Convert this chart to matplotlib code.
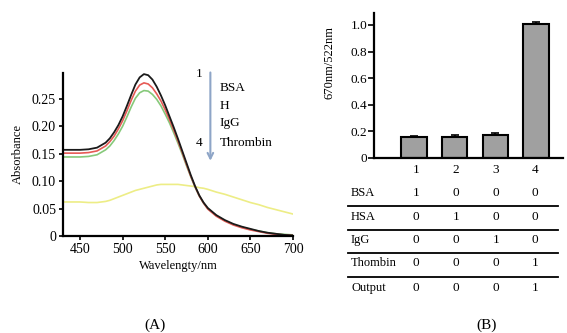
import matplotlib.pyplot as plt
from matplotlib.lines import Line2D

plt.rcParams['font.family'] = ['Liberation Serif', 'DejaVu Serif']

# (A) absorption spectra
wavelength = [430, 440, 450, 460, 470, 480, 485, 490, 495, 500, 505, 510, 515, 520, 525,
              530, 535, 540, 545, 550, 555, 560, 565, 570, 575, 580, 585, 590, 595, 600,
              610, 620, 630, 640, 650, 660, 670, 680, 690, 700]
abs_black = [0.157, 0.157, 0.157, 0.158, 0.161, 0.170, 0.178, 0.189, 0.202, 0.218, 0.237,
             0.257, 0.276, 0.289, 0.295, 0.293, 0.285, 0.272, 0.256, 0.238, 0.218, 0.198,
             0.177, 0.155, 0.133, 0.111, 0.091, 0.074, 0.061, 0.051, 0.038, 0.029, 0.022,
             0.017, 0.013, 0.009, 0.006, 0.004, 0.002, 0.001]
abs_red = [0.151, 0.151, 0.151, 0.152, 0.155, 0.164, 0.172, 0.182, 0.195, 0.210, 0.228,
           0.247, 0.264, 0.275, 0.279, 0.277, 0.270, 0.259, 0.246, 0.230, 0.212, 0.193,
           0.173, 0.152, 0.130, 0.109, 0.090, 0.073, 0.060, 0.049, 0.036, 0.027, 0.020,
           0.015, 0.011, 0.008, 0.005, 0.003, 0.002, 0.001]
abs_green = [0.144, 0.144, 0.144, 0.145, 0.148, 0.157, 0.164, 0.174, 0.186, 0.200, 0.217,
             0.235, 0.251, 0.261, 0.265, 0.264, 0.258, 0.249, 0.237, 0.222, 0.206, 0.188,
             0.169, 0.149, 0.128, 0.108, 0.089, 0.073, 0.060, 0.050, 0.037, 0.028, 0.021,
             0.016, 0.012, 0.009, 0.006, 0.004, 0.003, 0.002]
abs_yellow = [0.062, 0.062, 0.062, 0.061, 0.061, 0.063, 0.065, 0.068, 0.071, 0.074, 0.077,
              0.080, 0.083, 0.085, 0.087, 0.089, 0.091, 0.093, 0.094, 0.094, 0.094, 0.094,
              0.094, 0.093, 0.092, 0.091, 0.090, 0.088, 0.087, 0.085, 0.080, 0.076, 0.071,
              0.066, 0.061, 0.057, 0.052, 0.048, 0.044, 0.040]
legend_labels = ['BSA', 'H', 'IgG', 'Thrombin']

# (B) ratio bars and logic table
samples = ['1', '2', '3', '4']
ratio = [0.155, 0.16, 0.17, 1.005]
ratio_err = [0.014, 0.015, 0.016, 0.02]
table_rows = ['BSA', 'HSA', 'IgG', 'Thombin', 'Output']
table_vals = [[1, 0, 0, 0],
              [0, 1, 0, 0],
              [0, 0, 1, 0],
              [0, 0, 0, 1],
              [0, 0, 0, 1]]

W, H = 567, 333
fig = plt.figure(figsize=(W / 100, H / 100), dpi=100)

def fx(px):
    return px / W

def fy(py):
    return 1 - py / H

# ---- left panel
ax = fig.add_axes([fx(63), fy(236), fx(293) - fx(63), fy(73) - fy(236)])
ax.plot(wavelength, abs_yellow, color='#eded86', lw=1.2)
ax.plot(wavelength, abs_green, color='#86c97a', lw=1.2)
ax.plot(wavelength, abs_red, color='#e65a55', lw=1.2)
ax.plot(wavelength, abs_black, color='#1a1a1a', lw=1.3)
ax.set_xlim(430, 700)
ax.set_ylim(0, 0.297)
ax.set_xticks([450, 500, 550, 600, 650, 700])
ax.set_yticks([0, 0.05, 0.10, 0.15, 0.20, 0.25])
ax.set_yticklabels(['0', '0.05', '0.10', '0.15', '0.20', '0.25'])
for s in ['top', 'right']:
    ax.spines[s].set_visible(False)
for s in ['left', 'bottom']:
    ax.spines[s].set_linewidth(1.6)
ax.tick_params(direction='out', length=3, width=1.2, labelsize=10, pad=2)
ax.set_xlabel('Wavelengty/nm', fontsize=9, labelpad=3)
ax.set_ylabel('Absorbance', fontsize=9, labelpad=6)

ax.annotate('', xy=(603, 0.132), xytext=(603, 0.303), xycoords='data',
            arrowprops=dict(arrowstyle='->', color='#8ea5c7', lw=1.5), annotation_clip=False)
ax.text(590, 0.295, '1', fontsize=9.5, ha='center', va='center')
ax.text(590, 0.170, '4', fontsize=9.5, ha='center', va='center')
for lab, yv in zip(legend_labels, [0.270, 0.236, 0.205, 0.170]):
    ax.text(614, yv, lab, fontsize=9.5, ha='left', va='center')

fig.text(fx(155), fy(325), '(A)', fontsize=11, ha='center', va='center')

# ---- right panel
bx = fig.add_axes([fx(374), fy(158), fx(563) - fx(374), fy(13) - fy(158)])
xpos = [1, 2, 3, 4]
bx.bar(xpos, ratio, width=0.62, color='#a0a0a0', edgecolor='black', linewidth=1.5,
       yerr=[[0] * len(ratio_err), ratio_err],
       error_kw=dict(ecolor='black', elinewidth=1.2, capsize=3, capthick=1.2))
bx.set_xlim(0.02, 4.66)
bx.set_ylim(0, 1.09)
bx.set_xticks([])
bx.set_yticks([0, 0.2, 0.4, 0.6, 0.8, 1.0])
bx.set_yticklabels(['0', '0.2', '0.4', '0.6', '0.8', '1.0'])
for s in ['top', 'right']:
    bx.spines[s].set_visible(False)
for s in ['left', 'bottom']:
    bx.spines[s].set_linewidth(1.6)
bx.tick_params(direction='out', length=4, width=1.2, labelsize=9.5, pad=1)
bx.set_ylabel('670nm/522nm', fontsize=9)
bx.yaxis.set_label_coords(-0.206, 0.66)

col_x = [416, 456, 496, 535]
for lab, cx in zip(samples, col_x):
    fig.text(fx(cx), fy(170), lab, fontsize=9.5, ha='center', va='center')
row_y = [193, 217, 240, 263, 288]
for name, vals, ry in zip(table_rows, table_vals, row_y):
    fig.text(fx(351), fy(ry), name, fontsize=9, ha='left', va='center')
    for v, cx in zip(vals, col_x):
        fig.text(fx(cx), fy(ry), str(v), fontsize=9.5, ha='center', va='center')
for ly in [206, 230, 253, 277]:
    fig.add_artist(Line2D([fx(348), fx(558)], [fy(ly), fy(ly)], color='black', lw=1.3))

fig.text(fx(487), fy(325), '(B)', fontsize=11, ha='center', va='center')

fig.savefig('out.png', dpi=100)
